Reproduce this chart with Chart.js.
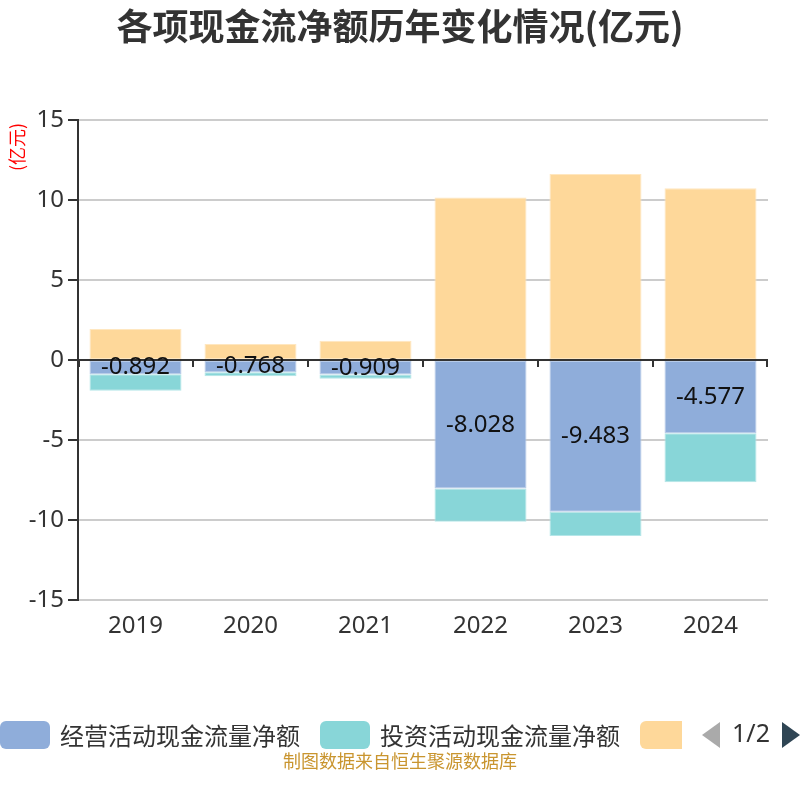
<!DOCTYPE html>
<html>
<head>
<meta charset="utf-8">
<script src="https://cdn.jsdelivr.net/npm/chart.js@4.4.0/dist/chart.umd.min.js"></script>
<style>
html,body{margin:0;padding:0;background:#fff;}
#wrap{position:relative;width:800px;height:800px;}
</style>
</head>
<body>
<div id="wrap"><canvas id="c" width="800" height="800"></canvas></div>
<script>
const categories = ['2019','2020','2021','2022','2023','2024'];
const operating = [-0.892, -0.768, -0.909, -8.028, -9.483, -4.577];
const investing = [-1.03, -0.24, -0.26, -2.08, -1.52, -3.07];
const financing = [1.94, 1.00, 1.21, 10.15, 11.63, 10.73];
const seriesNames = ['经营活动现金流量净额', '投资活动现金流量净额', '筹资活动现金流量净额'];
const yTicks = [15, 10, 5, 0, -5, -10, -15];
const titleText = '各项现金流净额历年变化情况(亿元)';
const unitText = '(亿元)';
const footerText = '制图数据来自恒生聚源数据库';

const colors = ['#8FADDA', '#88D6D8', '#FED89A'];
const borderColors = ['#b7cbe8', '#b5e6e8', '#ffe7c0'];
const FONT = '"Noto Sans", "Open Sans", "Noto Sans CJK SC", sans-serif';
const CJK = '"Noto Sans CJK SC", "Noto Sans", sans-serif';

const decor = {
  id: 'decor',
  beforeDatasetsDraw(chart) {
    const ctx = chart.ctx, x = chart.scales.x, y = chart.scales.y;
    const y0 = Math.round(y.getPixelForValue(0));
    ctx.save();
    ctx.strokeStyle = '#333';
    ctx.lineWidth = 2;
    ctx.beginPath();
    ctx.moveTo(chart.chartArea.left, y0);
    ctx.lineTo(chart.chartArea.right, y0);
    ctx.stroke();
    const n = categories.length;
    const step = (chart.chartArea.right - chart.chartArea.left) / n;
    for (let i = 0; i <= n; i++) {
      const px = Math.round(x.getPixelForValue(i) - step / 2) + (i === n ? -1 : 0);
      ctx.beginPath();
      ctx.moveTo(i === 0 ? px + 1 : px, y0);
      ctx.lineTo(i === 0 ? px + 1 : px, y0 + 7);
      ctx.stroke();
    }
    ctx.restore();
  },
  afterDatasetsDraw(chart) {
    const ctx = chart.ctx;
    const meta = chart.getDatasetMeta(0);
    ctx.save();
    ctx.font = '24px ' + FONT;
    ctx.fillStyle = '#111';
    ctx.textAlign = 'center';
    ctx.textBaseline = 'middle';
    meta.data.forEach((bar, i) => {
      const cy = (bar.y + bar.base) / 2;
      ctx.fillText(operating[i].toFixed(3), bar.x, cy);
    });
    ctx.restore();
  },
  afterDraw(chart) {
    const ctx = chart.ctx;
    ctx.save();
    ctx.textBaseline = 'middle';
    // title
    ctx.font = 'bold 36px ' + CJK;
    ctx.fillStyle = '#333';
    ctx.textAlign = 'center';
    ctx.fillText(titleText, 400, 26);
    // unit
    ctx.save();
    ctx.translate(17, 147);
    ctx.rotate(-Math.PI / 2);
    ctx.font = '18px ' + CJK;
    ctx.fillStyle = '#ff0000';
    ctx.textAlign = 'center';
    ctx.fillText(unitText, 0, 0);
    ctx.restore();
    // legend
    const ly = 721, lh = 28, lw = 50;
    const drawBox = (x, w, c) => {
      ctx.fillStyle = c;
      ctx.beginPath();
      ctx.roundRect(x, ly, w, lh, 6);
      ctx.fill();
    };
    ctx.font = '24px ' + CJK;
    ctx.textAlign = 'left';
    drawBox(0, lw, colors[0]);
    ctx.fillStyle = '#333';
    ctx.fillText(seriesNames[0], 60, ly + lh / 2 + 1);
    drawBox(320, lw, colors[1]);
    ctx.fillStyle = '#333';
    ctx.fillText(seriesNames[1], 380, ly + lh / 2 + 1);
    ctx.save();
    ctx.beginPath();
    ctx.rect(640, ly - 2, 42, lh + 4);
    ctx.clip();
    drawBox(640, lw, colors[2]);
    ctx.restore();
    // pager
    ctx.fillStyle = '#aaa';
    ctx.beginPath();
    ctx.moveTo(720, 722); ctx.lineTo(702, 735); ctx.lineTo(720, 748); ctx.closePath(); ctx.fill();
    ctx.fillStyle = '#333';
    ctx.font = '25px ' + FONT;
    ctx.textAlign = 'center';
    ctx.fillText('1/2', 751, 735);
    ctx.fillStyle = '#2f4554';
    ctx.beginPath();
    ctx.moveTo(782, 722); ctx.lineTo(800, 735); ctx.lineTo(782, 748); ctx.closePath(); ctx.fill();
    // footer
    ctx.font = '18px ' + CJK;
    ctx.fillStyle = '#C9952F';
    ctx.textAlign = 'center';
    ctx.fillText(footerText, 400, 761);
    ctx.restore();
  }
};

new Chart(document.getElementById('c'), {
  type: 'bar',
  data: {
    labels: categories,
    datasets: [
      { label: seriesNames[0], data: operating, backgroundColor: colors[0], borderColor: borderColors[0], borderWidth: 1, borderSkipped: false },
      { label: seriesNames[1], data: investing, backgroundColor: colors[1], borderColor: borderColors[1], borderWidth: 1, borderSkipped: false },
      { label: seriesNames[2], data: financing, backgroundColor: colors[2], borderColor: borderColors[2], borderWidth: 1, borderSkipped: false }
    ]
  },
  options: {
    responsive: false,
    animation: false,
    devicePixelRatio: 1,
    layout: { padding: { top: 120, right: 32, left: 0, bottom: 0 } },
    datasets: { bar: { barPercentage: 0.8, categoryPercentage: 1.0 } },
    plugins: { legend: { display: false }, title: { display: false }, tooltip: { enabled: false } },
    scales: {
      x: {
        stacked: true,
        grid: { display: false, drawTicks: false },
        border: { display: false },
        ticks: { color: '#333', font: { size: 24, family: FONT }, padding: 12 },
        afterFit(s) { s.height = 200; }
      },
      y: {
        stacked: true,
        min: -15, max: 15,
        afterBuildTicks(s) { s.ticks = yTicks.map(v => ({ value: v })); },
        grid: { color: '#cccccc', lineWidth: 2, tickLength: 10, tickColor: '#333', tickWidth: 2 },
        border: { color: '#333', width: 2 },
        ticks: { color: '#333', font: { size: 24, family: FONT }, padding: 4 },
        afterFit(s) { s.width = 78; }
      }
    }
  },
  plugins: [decor]
});
</script>
</body>
</html>
